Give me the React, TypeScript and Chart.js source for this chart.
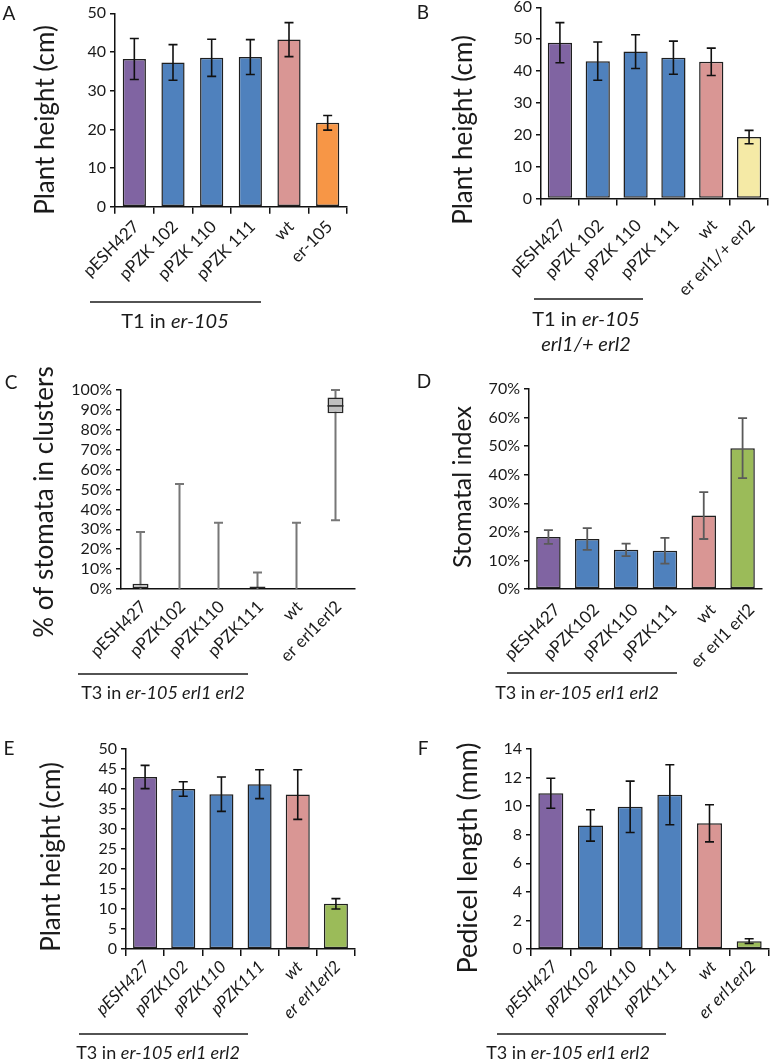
import React, { useEffect, useRef } from "react";
import { Chart, registerables } from "chart.js";
Chart.register(...registerables);

const FONT = "Lato, 'Open Sans', sans-serif";
const TXT = "#1a1a1a";
const PURPLE = "#8064A2";
const BLUE = "#4F81BD";
const PINK = "#D99694";
const ORANGE = "#F79646";
const YELLOW = "#F5EAA6";
const GREEN = "#9BBB59";

// ---------- data ----------
const catsA = ["pESH427", "pPZK 102", "pPZK 110", "pPZK 111", "wt", "er-105"];
const heightA = [38.2, 37.3, 38.5, 38.7, 43.2, 21.7];
const errA = [5.3, 4.6, 4.8, 4.5, 4.4, 1.9];

const catsB = ["pESH427", "pPZK 102", "pPZK 110", "pPZK 111", "wt", "er erl1/+ erl2"];
const heightB = [48.9, 43.1, 46.1, 44.2, 42.9, 19.3];
const errB = [6.3, 6.0, 5.3, 5.2, 4.3, 2.1];

const catsC = ["pESH427", "pPZK102", "pPZK110", "pPZK111", "wt", "er erl1erl2"];
const clusterQ1 = [0, 0, 0, 0, 0, 88.3];
const clusterQ3 = [2.7, 0, 0, 1.2, 0, 96.2];
const clusterMedian = [0, 0, 0, 0, 0, 92];
const clusterMin = [0, 0, 0, 0, 0, 34.5];
const clusterMax = [28.6, 52.8, 33.3, 8.3, 33.3, 100];

const catsD = ["pESH427", "pPZK102", "pPZK110", "pPZK111", "wt", "er erl1 erl2"];
const indexD = [18.2, 17.5, 13.7, 13.4, 25.7, 49.3];
const errD = [2.4, 3.8, 2.2, 4.5, 8.2, 10.5];

const catsEF = ["pESH427", "pPZK102", "pPZK110", "pPZK111", "wt", "er erl1erl2"];
const heightE = [43.0, 40.0, 38.7, 41.2, 38.6, 11.3];
const errE = [2.9, 1.8, 4.3, 3.6, 6.2, 1.3];
const pedicelF = [10.9, 8.65, 9.95, 10.8, 8.8, 0.55];
const errF = [1.05, 1.1, 1.8, 2.1, 1.3, 0.17];

// ---------- plugins ----------
type Seg = { t: string; i?: boolean };

function annotPlugin(spec: any) {
  return {
    id: "annot",
    afterDraw(chart: any) {
      const a = spec.annot;
      const ctx = chart.ctx;
      const ox = spec.left;
      const oy = spec.top;
      ctx.save();
      ctx.fillStyle = TXT;
      ctx.textAlign = "center";
      ctx.textBaseline = "middle";
      ctx.font = `19px ${FONT}`;
      ctx.fillText(a.letter[0], a.letter[1] - ox, a.letter[2] - oy);
      ctx.save();
      ctx.translate(a.yTitle[1] - ox, a.yTitle[2] - oy);
      ctx.rotate(-Math.PI / 2);
      ctx.font = `${spec.titleSize}px ${FONT}`;
      ctx.fillText(a.yTitle[0], 0, 0);
      ctx.restore();
      const g = a.group;
      ctx.strokeStyle = TXT;
      ctx.lineWidth = 1.5;
      ctx.beginPath();
      ctx.moveTo(g.x1 - ox, g.y - oy);
      ctx.lineTo(g.x2 - ox, g.y - oy);
      ctx.stroke();
      ctx.textAlign = "left";
      g.lines.forEach((segs: Seg[], k: number) => {
        const fonts = segs.map((s) => `${s.i ? "italic " : ""}${spec.groupSize}px ${FONT}`);
        let w = 0;
        const ws = segs.map((s, j) => {
          ctx.font = fonts[j];
          const m = ctx.measureText(s.t).width;
          w += m;
          return m;
        });
        let x = g.cx - ox - w / 2;
        segs.forEach((s, j) => {
          ctx.font = fonts[j];
          ctx.fillText(s.t, x, g.y0 + k * g.gap - oy);
          x += ws[j];
        });
      });
      // rotated category labels, positioned by the category scale
      const xs = chart.scales.x;
      ctx.font = `${spec.italic ? "italic " : ""}17px ${FONT}`;
      ctx.textAlign = "right";
      ctx.textBaseline = "middle";
      spec.labels.forEach((lab: string, i: number) => {
        const x = xs.getPixelForValue(i) + spec.lblDx;
        const y = xs.top + spec.lblDy;
        ctx.save();
        ctx.translate(x, y);
        ctx.rotate(-Math.PI / 4);
        ctx.fillText(lab, 0, 0);
        ctx.restore();
      });
      ctx.restore();
    },
  };
}

function errPlugin(vals: number[], errs: number[], color: string, width: number) {
  return {
    id: "err",
    afterDatasetsDraw(chart: any) {
      const meta = chart.getDatasetMeta(0);
      const y = chart.scales.y;
      const ctx = chart.ctx;
      ctx.save();
      ctx.strokeStyle = color;
      ctx.lineWidth = width;
      meta.data.forEach((bar: any, i: number) => {
        const x = bar.x;
        const t = y.getPixelForValue(vals[i] + errs[i]);
        const b = y.getPixelForValue(vals[i] - errs[i]);
        ctx.beginPath();
        ctx.moveTo(x, t);
        ctx.lineTo(x, b);
        ctx.moveTo(x - 4.5, t);
        ctx.lineTo(x + 4.5, t);
        ctx.moveTo(x - 4.5, b);
        ctx.lineTo(x + 4.5, b);
        ctx.stroke();
      });
      ctx.restore();
    },
  };
}

const boxPlugin = {
  id: "box",
  beforeDatasetsDraw(chart: any) {
    const xs = chart.scales.x;
    const y = chart.scales.y;
    const ctx = chart.ctx;
    ctx.save();
    ctx.strokeStyle = "#777777";
    ctx.lineWidth = 2;
    clusterMax.forEach((mx, i) => {
      const x = xs.getPixelForValue(i);
      const t = y.getPixelForValue(mx);
      const b = y.getPixelForValue(clusterMin[i]);
      ctx.beginPath();
      ctx.moveTo(x, t);
      ctx.lineTo(x, b);
      ctx.moveTo(x - 4.5, t);
      ctx.lineTo(x + 4.5, t);
      if (clusterMin[i] > 0) {
        ctx.moveTo(x - 4.5, b);
        ctx.lineTo(x + 4.5, b);
      }
      ctx.stroke();
    });
    ctx.restore();
  },
  afterDatasetsDraw(chart: any) {
    const meta = chart.getDatasetMeta(0);
    const y = chart.scales.y;
    const ctx = chart.ctx;
    ctx.save();
    ctx.strokeStyle = "#262626";
    ctx.lineWidth = 1.5;
    meta.data.forEach((bar: any, i: number) => {
      if (clusterMedian[i] > clusterQ1[i] && clusterMedian[i] < clusterQ3[i]) {
        const m = y.getPixelForValue(clusterMedian[i]);
        ctx.beginPath();
        ctx.moveTo(bar.x - bar.width / 2, m);
        ctx.lineTo(bar.x + bar.width / 2, m);
        ctx.stroke();
      }
    });
    ctx.restore();
  },
};

// ---------- panel specs ----------
function barColors(last: string) {
  return [PURPLE, BLUE, BLUE, BLUE, PINK, last];
}

function barDataset(vals: number[], last: string, pct: number) {
  return {
    data: vals,
    backgroundColor: barColors(last),
    borderColor: "#1f1f1f",
    borderWidth: 1.5,
    borderSkipped: false,
    categoryPercentage: 1,
    barPercentage: pct,
  };
}

const T3: Seg[] = [{ t: "T3 in " }, { t: "er-105 erl1 erl2", i: true }];

const specs: any[] = [
  {
    left: 0, top: 0, width: 385, height: 356,
    axisX: 115, plotTop: 13.3, plotBottom: 206.8, plotRight: 347,
    labels: catsA, italic: false, xTicks: true, lblDx: 2, lblDy: 17,
    yMax: 50, yStep: 10, pct: false, titleSize: 26, groupSize: 20,
    datasets: [barDataset(heightA, ORANGE, 0.6)],
    plugins: [errPlugin(heightA, errA, "#111", 1.6)],
    annot: {
      letter: ["A", 9, 14],
      yTitle: ["Plant height (cm)", 46, 120],
      group: { x1: 90, x2: 261, y: 302, cx: 175, y0: 322, gap: 25, lines: [[{ t: "T1 in " }, { t: "er-105", i: true }]] },
    },
  },
  {
    left: 385, top: 0, width: 386, height: 356,
    axisX: 541, plotTop: 7.3, plotBottom: 198.6, plotRight: 768,
    labels: catsB, italic: false, xTicks: true, lblDx: 3, lblDy: 24,
    yMax: 60, yStep: 10, pct: false, titleSize: 26, groupSize: 20,
    datasets: [barDataset(heightB, YELLOW, 0.64)],
    plugins: [errPlugin(heightB, errB, "#111", 1.6)],
    annot: {
      letter: ["B", 423, 13],
      yTitle: ["Plant height (cm)", 464, 130],
      group: {
        x1: 534, x2: 643, y: 299, cx: 586, y0: 320, gap: 25,
        lines: [[{ t: "T1 in " }, { t: "er-105", i: true }], [{ t: "erl1/+ erl2", i: true }]],
      },
    },
  },
  {
    left: 0, top: 356, width: 385, height: 374,
    axisX: 121, plotTop: 390, plotBottom: 589, plotRight: 355,
    labels: catsC, italic: false, xTicks: false, lblDx: 3, lblDy: 15,
    yMax: 100, yStep: 10, pct: true, titleSize: 26, groupSize: 18,
    datasets: [
      {
        data: clusterQ1.map((q, i) => (clusterQ3[i] > q ? [q, clusterQ3[i]] : null)),
        backgroundColor: "#BFBFBF",
        borderColor: "#262626",
        borderWidth: 1.5,
        borderSkipped: false,
        categoryPercentage: 1,
        barPercentage: 0.41,
      },
    ],
    plugins: [boxPlugin],
    annot: {
      letter: ["C", 11, 383],
      yTitle: ["% of stomata in clusters", 45, 502],
      group: { x1: 78, x2: 248, y: 674, cx: 163, y0: 693, gap: 25, lines: [T3] },
    },
  },
  {
    left: 385, top: 356, width: 386, height: 374,
    axisX: 529, plotTop: 389, plotBottom: 589, plotRight: 762,
    labels: catsD, italic: false, xTicks: false, lblDx: 9, lblDy: 18,
    yMax: 70, yStep: 10, pct: true, titleSize: 25, groupSize: 18,
    datasets: [barDataset(indexD, GREEN, 0.63)],
    plugins: [errPlugin(indexD, errD, "#5a5a5a", 1.8)],
    annot: {
      letter: ["D", 424, 382],
      yTitle: ["Stomatal index", 463, 487],
      group: { x1: 507, x2: 677, y: 673, cx: 577, y0: 693, gap: 25, lines: [T3] },
    },
  },
  {
    left: 0, top: 730, width: 385, height: 332,
    axisX: 126, plotTop: 749, plotBottom: 949, plotRight: 355,
    labels: catsEF, italic: true, xTicks: true, lblDx: 2, lblDy: 15,
    yMax: 50, yStep: 5, pct: false, titleSize: 26, groupSize: 18,
    datasets: [barDataset(heightE, GREEN, 0.63)],
    plugins: [errPlugin(heightE, errE, "#111", 1.6)],
    annot: {
      letter: ["E", 9, 749],
      yTitle: ["Plant height (cm)", 52, 857],
      group: { x1: 79, x2: 248, y: 1034, cx: 158, y0: 1053, gap: 25, lines: [T3] },
    },
  },
  {
    left: 385, top: 730, width: 386, height: 332,
    axisX: 531, plotTop: 749, plotBottom: 949, plotRight: 769,
    labels: catsEF, italic: true, xTicks: true, lblDx: 4, lblDy: 15,
    yMax: 14, yStep: 2, pct: false, titleSize: 27, groupSize: 18,
    datasets: [barDataset(pedicelF, GREEN, 0.63)],
    plugins: [errPlugin(pedicelF, errF, "#111", 1.6)],
    annot: {
      letter: ["F", 423, 749],
      yTitle: ["Pedicel length (mm)", 468, 858],
      group: { x1: 497, x2: 666, y: 1034, cx: 568, y0: 1053, gap: 25, lines: [T3] },
    },
  },
];

function buildConfig(spec: any): any {
  return {
    type: "bar",
    data: { labels: spec.labels, datasets: spec.datasets },
    options: {
      animation: false,
      responsive: false,
      maintainAspectRatio: false,
      layout: {
        padding: {
          left: 0,
          top: spec.plotTop - spec.top,
          right: spec.left + spec.width - spec.plotRight,
          bottom: 0,
        },
      },
      plugins: { legend: { display: false }, tooltip: { enabled: false }, title: { display: false } },
      scales: {
        x: {
          type: "category",
          offset: true,
          grid: {
            display: true,
            drawOnChartArea: false,
            drawTicks: spec.xTicks,
            tickLength: 7,
            color: "#111",
            lineWidth: 1.5,
            offset: true,
          },
          border: { display: true, color: "#111", width: 1.5 },
          ticks: { display: false },
          afterFit: (s: any) => {
            s.height = spec.top + spec.height - spec.plotBottom;
            s.paddingLeft = 0;
            s.paddingRight = 0;
          },
        },
        y: {
          type: "linear",
          min: 0,
          max: spec.yMax,
          grid: { display: true, drawOnChartArea: false, drawTicks: true, tickLength: 5, color: "#111", lineWidth: 1.5 },
          border: { display: true, color: "#111", width: 1.5 },
          ticks: {
            stepSize: spec.yStep,
            autoSkip: false,
            color: TXT,
            padding: 4,
            font: { family: FONT, size: 16 },
            callback: (v: any) => (spec.pct ? `${v}%` : `${v}`),
          },
          afterFit: (s: any) => {
            s.width = spec.axisX - spec.left;
            s.paddingTop = 0;
            s.paddingBottom = 0;
          },
        },
      },
    },
    plugins: [...spec.plugins, annotPlugin(spec)],
  };
}

function Panel({ spec }: { spec: any }) {
  const ref = useRef<HTMLCanvasElement>(null);
  useEffect(() => {
    const chart = new Chart(ref.current as HTMLCanvasElement, buildConfig(spec));
    return () => chart.destroy();
  }, [spec]);
  return (
    <canvas
      ref={ref}
      width={spec.width}
      height={spec.height}
      style={{ position: "absolute", left: spec.left, top: spec.top, width: spec.width, height: spec.height }}
    />
  );
}

export default function App() {
  return (
    <div style={{ position: "absolute", left: 0, top: 0, width: 771, height: 1062, background: "#fff", overflow: "hidden" }}>
      {specs.map((s, i) => (
        <Panel key={i} spec={s} />
      ))}
    </div>
  );
}
